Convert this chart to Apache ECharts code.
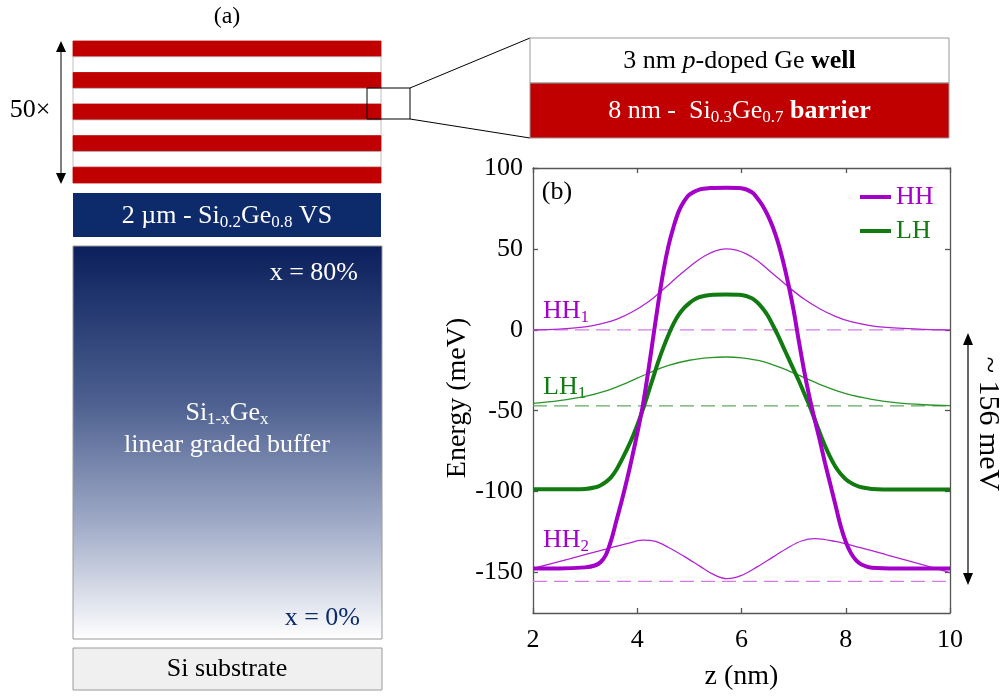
<!DOCTYPE html>
<html>
<head>
<meta charset="utf-8">
<script src="https://cdn.jsdelivr.net/npm/echarts/dist/echarts.min.js"></script>
<style>html,body{margin:0;padding:0;background:#fff;}#c{width:1003px;height:696px;}</style>
</head>
<body>
<div id="c"></div>
<script>
// ---------- data ----------
const xTicks = [2, 4, 6, 8, 10];
const yTicks = [-150, -100, -50, 0, 50, 100];
const hhBand = [[2,-147.5],[2.5,-147.5],[3,-146.8],[3.2,-145.5],[3.3,-143.5],[3.4,-139],[3.5,-130],[3.6,-118],[3.7,-106],[3.8,-93],[3.9,-79],[4.0,-64],[4.1,-48],[4.2,-28],[4.3,-6],[4.4,16],[4.5,36],[4.6,52],[4.7,64],[4.8,73.5],[4.9,79.5],[5.0,83.5],[5.2,86.8],[5.4,87.6],[5.7,87.8],[6.0,87.5],[6.2,85],[6.3,81.5],[6.4,77],[6.5,71],[6.6,63.5],[6.7,54],[6.8,42],[6.9,28],[7.0,12],[7.1,-7],[7.2,-25],[7.3,-41],[7.4,-55],[7.5,-68],[7.6,-82],[7.7,-95],[7.8,-108],[7.9,-121],[8.0,-131],[8.1,-138],[8.2,-142.5],[8.3,-145],[8.5,-147],[9,-147.5],[10,-147.5]];
const lhBand = [[2,-98.5],[2.5,-98.5],[3,-98.3],[3.2,-97.3],[3.3,-96],[3.4,-94],[3.5,-91],[3.6,-86.5],[3.7,-80.5],[3.8,-74],[3.9,-67],[4.0,-59],[4.1,-50],[4.2,-40],[4.3,-30],[4.4,-20],[4.5,-11],[4.6,-3],[4.7,4],[4.8,9.5],[4.9,13.5],[5.0,16.5],[5.1,18.8],[5.2,20.3],[5.4,21.5],[5.7,21.8],[6.0,21.5],[6.2,19.5],[6.3,17],[6.4,13.5],[6.5,9],[6.6,3],[6.7,-3.5],[6.8,-10.5],[6.9,-17.5],[7.0,-24.5],[7.1,-31.5],[7.2,-39],[7.3,-46.5],[7.4,-55],[7.5,-63.5],[7.6,-71.5],[7.7,-78.5],[7.8,-84.5],[7.9,-89],[8.0,-92.3],[8.1,-94.6],[8.2,-96.2],[8.3,-97.3],[8.5,-98.3],[9,-98.7],[10,-98.7]];
const hh1State = [[2,0],[2.5,0.4],[3,1.8],[3.3,3.6],[3.6,6.5],[3.9,11],[4.2,17],[4.5,25],[4.8,33.5],[5.1,41.5],[5.3,45.8],[5.5,48.8],[5.7,50],[5.9,49.2],[6.1,46.8],[6.3,42.8],[6.5,37.5],[6.7,32],[6.9,26.5],[7.2,19],[7.5,13],[7.8,8.3],[8.1,5],[8.5,2.5],[9,1],[9.5,0.3],[10,0]];
const lh1State = [[2,-45.5],[2.5,-43.8],[3,-41.2],[3.4,-37.8],[3.8,-32.8],[4.2,-27],[4.6,-22],[5.0,-18.8],[5.4,-17.2],[5.7,-16.8],[6.0,-17.3],[6.4,-19.5],[6.8,-24],[7.2,-29.5],[7.6,-35],[8.0,-39.5],[8.5,-43],[9.0,-45.2],[9.5,-46.3],[10,-46.8]];
const hh2State = [[2,-147.5],[2.7,-141.5],[3.4,-135.5],[3.8,-132.2],[4.1,-130],[4.35,-130.8],[4.6,-134.5],[4.9,-140],[5.2,-146],[5.45,-151],[5.72,-153.8],[6.0,-151.8],[6.3,-146.5],[6.6,-140.5],[6.9,-134.5],[7.15,-130.5],[7.4,-129],[7.8,-130.8],[8.3,-134.8],[8.8,-139.2],[9.4,-144.5],[10,-150]];
const levelHH1 = 0;
const levelLH1 = -47;
const levelHH2 = -155.5;
const stackLayers = ['barrier','well','barrier','well','barrier','well','barrier','well','barrier'];

// ---------- styling ----------
const F = 'Liberation Serif';
const PURPLE = '#a300c8', GREEN = '#117a11';
const chart = echarts.init(document.getElementById('c'), null, {renderer: 'canvas'});
const sub = {fontSize: 17, fontFamily: F, verticalAlign: 'bottom', lineHeight: 12};
function subRich(fill){ return { s: Object.assign({}, sub, {fill: fill}) }; }

const left = [];
left.push({type:'text', x:227, y:17, style:{text:'(a)', fontSize:24, fontFamily:F, fill:'#000', align:'center', verticalAlign:'middle'}});
const sh = 142/stackLayers.length;
stackLayers.forEach((k,i)=>{
  left.push({type:'rect', shape:{x:73, y:41+i*sh, width:308, height:sh},
    style:{fill: k==='barrier' ? '#c00000' : '#ffffff', stroke: k==='barrier' ? '#c00000' : '#b0b0b0', lineWidth: 0.8}});
});
left.push({type:'line', shape:{x1:61, y1:50, x2:61, y2:175}, style:{stroke:'#555', lineWidth:1.5}});
left.push({type:'polygon', shape:{points:[[61,41],[56,52],[66,52]]}, style:{fill:'#000'}});
left.push({type:'polygon', shape:{points:[[61,184],[56,173],[66,173]]}, style:{fill:'#000'}});
left.push({type:'text', x:30, y:110, style:{text:'50×', fontSize:26, fontFamily:F, fill:'#000', align:'center', verticalAlign:'middle'}});
left.push({type:'rect', shape:{x:367, y:88, width:43, height:31}, style:{fill:'none', stroke:'#000', lineWidth:1}});
left.push({type:'line', shape:{x1:410, y1:88, x2:530, y2:38}, style:{stroke:'#000', lineWidth:1}});
left.push({type:'line', shape:{x1:410, y1:119, x2:530, y2:138}, style:{stroke:'#000', lineWidth:1}});
left.push({type:'rect', shape:{x:530, y:38, width:419, height:45}, style:{fill:'#fff', stroke:'#999', lineWidth:1}});
left.push({type:'rect', shape:{x:530, y:83, width:419, height:55}, style:{fill:'#c00000', stroke:'#999', lineWidth:1}});
left.push({type:'text', x:739.5, y:61, style:{text:'3 nm {i|p}-doped Ge {b|well}', fontSize:26, fontFamily:F, fill:'#000', align:'center', verticalAlign:'middle',
  rich:{i:{fontStyle:'italic', fontSize:26, fontFamily:F, fill:'#000'}, b:{fontWeight:'bold', fontSize:26, fontFamily:F, fill:'#000'}}}});
left.push({type:'text', x:739.5, y:111, style:{text:'8 nm -  Si{s|0.3}Ge{s|0.7} {b|barrier}', fontSize:26, fontFamily:F, fill:'#fff', align:'center', verticalAlign:'middle', lineHeight:30,
  rich:Object.assign(subRich('#fff'), {b:{fontWeight:'bold', fontSize:26, fontFamily:F, fill:'#fff'}})}});
left.push({type:'rect', shape:{x:73, y:193, width:308, height:44}, style:{fill:'#0d2a6a'}});
left.push({type:'text', x:227, y:216, style:{text:'2 µm - Si{s|0.2}Ge{s|0.8} VS', fontSize:26, fontFamily:F, fill:'#fff', align:'center', verticalAlign:'middle', lineHeight:30, rich:subRich('#fff')}});
left.push({type:'rect', shape:{x:73, y:246, width:309, height:393}, style:{
  fill:{type:'linear', x:0, y:0, x2:0, y2:1, colorStops:[{offset:0, color:'#0a1f5c'},{offset:0.4, color:'#4d6090'},{offset:0.7, color:'#9ea9c6'},{offset:1, color:'#ffffff'}]},
  stroke:'#9a9a9a', lineWidth:1}});
left.push({type:'text', x:358, y:273, style:{text:'x = 80%', fontSize:26, fontFamily:F, fill:'#fff', align:'right', verticalAlign:'middle'}});
left.push({type:'text', x:360, y:618, style:{text:'x = 0%', fontSize:26, fontFamily:F, fill:'#0d2a6a', align:'right', verticalAlign:'middle'}});
left.push({type:'text', x:227, y:413, style:{text:'Si{s|1-x}Ge{s|x}', fontSize:26, fontFamily:F, fill:'#fff', align:'center', verticalAlign:'middle', lineHeight:30, rich:subRich('#fff')}});
left.push({type:'text', x:227, y:445, style:{text:'linear graded buffer', fontSize:26, fontFamily:F, fill:'#fff', align:'center', verticalAlign:'middle'}});
left.push({type:'rect', shape:{x:73, y:648, width:309, height:42}, style:{fill:'#f0f0f0', stroke:'#9a9a9a', lineWidth:1}});
left.push({type:'text', x:227, y:669, style:{text:'Si substrate', fontSize:26, fontFamily:F, fill:'#000', align:'center', verticalAlign:'middle'}});

// right panel annotations
left.push({type:'text', x:557, y:192, style:{text:'(b)', fontSize:26, fontFamily:F, fill:'#000', align:'center', verticalAlign:'middle'}});
left.push({type:'text', x:543, y:311, style:{text:'HH{s|1}', fontSize:26, fontFamily:F, fill:PURPLE, align:'left', verticalAlign:'middle', lineHeight:30, rich:subRich(PURPLE)}});
left.push({type:'text', x:543, y:387, style:{text:'LH{s|1}', fontSize:26, fontFamily:F, fill:GREEN, align:'left', verticalAlign:'middle', lineHeight:30, rich:subRich(GREEN)}});
left.push({type:'text', x:543, y:540, style:{text:'HH{s|2}', fontSize:26, fontFamily:F, fill:PURPLE, align:'left', verticalAlign:'middle', lineHeight:30, rich:subRich(PURPLE)}});
left.push({type:'line', shape:{x1:968, y1:342, x2:968, y2:576}, style:{stroke:'#000', lineWidth:1.2}});
left.push({type:'polygon', shape:{points:[[968,333],[963,345],[973,345]]}, style:{fill:'#000'}});
left.push({type:'polygon', shape:{points:[[968,585],[963,573],[973,573]]}, style:{fill:'#000'}});
left.push({type:'text', x:988, y:424, rotation:-Math.PI/2, style:{text:'~ 156 meV', fontSize:30, fontFamily:F, fill:'#000', align:'center', verticalAlign:'middle'}});
left.push({type:'text', x:458, y:398, rotation:Math.PI/2, style:{text:'Energy (meV)', fontSize:28, fontFamily:F, fill:'#000', align:'center', verticalAlign:'middle'}});

function band(name, data, color, width, z){
  return {name, type:'line', data, symbol:'none', smooth:0.35, z,
    lineStyle:{color, width}, itemStyle:{color}, emphasis:{disabled:true}};
}
function level(name, v, color){
  return {name, type:'line', data:[[2,v],[10,v]], symbol:'none', z:2,
    lineStyle:{color, width:1.2, type:[14,7]}, itemStyle:{color}, emphasis:{disabled:true}};
}
const axisLineStyle = {color:'#555', width:1.3};
const tickFont = {color:'#000', fontSize:26, fontFamily:F};

chart.setOption({
  animation:false,
  backgroundColor:'#fff',
  grid:{left:533, top:168, width:417, height:450, show:false},
  legend:{orient:'vertical', left:855, top:179, itemWidth:31, itemHeight:4, itemGap:8, icon:'rect',
    textStyle:{fontSize:26, fontFamily:F},
    data:[{name:'HH', textStyle:{color:PURPLE}}, {name:'LH', textStyle:{color:GREEN}}]},
  xAxis:[
    {type:'value', min:2, max:10, interval:2, position:'bottom',
     axisLine:{show:true, onZero:false, lineStyle:axisLineStyle},
     axisTick:{show:true, inside:true, length:5, lineStyle:axisLineStyle},
     axisLabel:Object.assign({margin:14, customValues:xTicks}, tickFont),
     splitLine:{show:false},
     name:'z (nm)', nameLocation:'middle', nameGap:50, nameTextStyle:{color:'#000', fontSize:28, fontFamily:F}},
    {type:'value', min:2, max:10, interval:2, position:'top',
     axisLine:{show:true, onZero:false, lineStyle:axisLineStyle},
     axisTick:{show:true, inside:true, length:5, lineStyle:axisLineStyle},
     axisLabel:{show:false}, splitLine:{show:false}}
  ],
  yAxis:[
    {type:'value', min:-175, max:100, position:'left',
     axisLine:{show:true, onZero:false, lineStyle:axisLineStyle},
     axisTick:{show:true, inside:true, length:5, customValues:yTicks, lineStyle:axisLineStyle},
     axisLabel:Object.assign({margin:10, customValues:yTicks}, tickFont),
     splitLine:{show:false}},
    {type:'value', min:-175, max:100, position:'right',
     axisLine:{show:true, onZero:false, lineStyle:axisLineStyle},
     axisTick:{show:true, inside:true, length:5, customValues:yTicks, lineStyle:axisLineStyle},
     axisLabel:{show:false}, splitLine:{show:false}}
  ],
  series:[
    level('HH1 level', levelHH1, '#d47ae8'),
    level('LH1 level', levelLH1, '#62a862'),
    level('HH2 level', levelHH2, '#d47ae8'),
    band('HH1', hh1State, '#b025d2', 1.3, 3),
    band('LH1', lh1State, '#2a942a', 1.3, 3),
    band('HH2', hh2State, '#b025d2', 1.3, 3),
    band('LH', lhBand, GREEN, 4, 4),
    band('HH', hhBand, PURPLE, 4, 5)
  ],
  graphic:left
});
</script>
</body>
</html>
